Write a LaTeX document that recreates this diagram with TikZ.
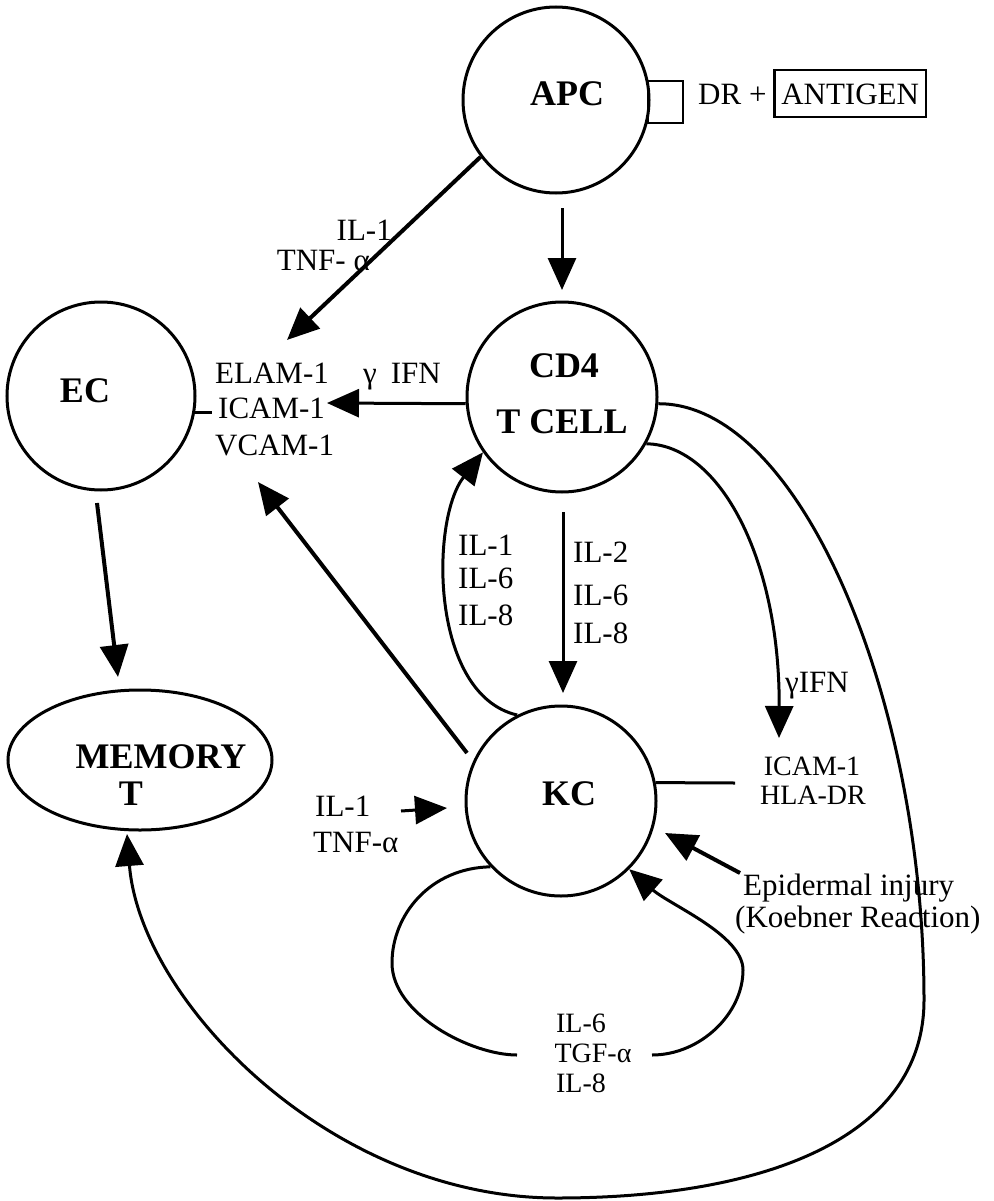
\documentclass[tikz,border=0pt]{standalone}
\usepackage{fontspec}
\setmainfont{Liberation Serif}
\usetikzlibrary{arrows.meta,shapes.geometric}
\begin{document}
\begin{tikzpicture}[x=1pt,y=1pt,
  cell/.style={draw, circle, line width=3pt, minimum size=#1, inner sep=0pt},
  lab/.style={font=\fontsize{31}{36}\selectfont, inner sep=0pt},
  slab/.style={font=\fontsize{28}{32}\selectfont, inner sep=0pt},
  ttl/.style={font=\fontsize{36}{40}\selectfont\bfseries, inner sep=0pt, anchor=base},
  arr/.style={-{Triangle[length=32pt,width=28pt]}, line width=3pt},
  thk/.style={line width=4pt},
  plain/.style={line width=3pt}
]
\useasboundingbox (0,0) rectangle (993,-1201);

% cells
\node[cell=186pt] (apc) at (556,-100) {};
\node[ttl] (apct) at (567,-106) {APC};
\node[draw, line width=2.5pt, minimum width=35pt, minimum height=42pt, inner sep=0pt] (sq) at (665.5,-102) {};
\node[lab, anchor=base west] (dr) at (698,-105) {DR +};
\node[lab, draw, line width=2.5pt, inner xsep=7pt, inner ysep=12pt, text height=23pt, text depth=0pt, anchor=base west] (ag) at (773,-105) {ANTIGEN};

\node[cell=188pt] (ec) at (101,-396) {};
\node[ttl] (ect) at (85,-402) {EC};

\node[cell=190pt] (cd4) at (562,-397) {};
\node[ttl] (cd4t) at (564,-377) {CD4};
\node[ttl] (tcell) at (562,-433) {T CELL};

\node[cell=190pt] (kc) at (561,-801) {};
\node[ttl] (kct) at (569,-805) {KC};

\node[draw, ellipse, line width=3pt, minimum width=264pt, minimum height=140pt, inner sep=0pt] (mem) at (140,-760) {};
\node[ttl] (memt1) at (161,-768) {MEMORY};
\node[ttl] (memt2) at (131,-805) {T};

% free ends
\coordinate (t1) at (287,-340);
\coordinate (s2) at (562,-208); \coordinate (t2) at (562,-290);
\coordinate (t3) at (327,-403);
\coordinate (s5) at (563,-512); \coordinate (t5) at (563,-693);
\coordinate (t6) at (779,-738);
\coordinate (e7) at (735,-783);
\coordinate (s8) at (97,-503); \coordinate (t8) at (118,-677);
\coordinate (s9) at (467,-753); \coordinate (t9) at (258,-482);
\coordinate (s10) at (401,-811); \coordinate (t10) at (447,-808);
\coordinate (s11) at (740,-873); \coordinate (t11) at (665,-833);
\coordinate (l1) at (517,-1055); \coordinate (l2) at (652,-1055);
\coordinate (t12) at (127,-834);

% connectors
\draw[arr, thk] (apc.217) -- (t1);
\draw[arr] (s2) -- (t2);
\draw[arr] (cd4.184) -- (t3);
\draw[arr] (kc.117) .. controls (430,-695) and (430,-520) .. (cd4.215);
\draw[arr] (s5) -- (t5);
\draw[arr] (cd4.-29) .. controls (720,-445) and (780,-560) .. (t6);
\draw[plain] (kc.11) -- (e7);
\draw[arr] (cd4.-4) .. controls (800,-403) and (924,-700) .. (924,-1000)
   .. controls (924,-1140) and (760,-1198) .. (557,-1198)
   .. controls (330,-1198) and (140,-1000) .. (t12);
\draw[arr, thk] (s8) -- (t8);
\draw[arr, thk] (s9) -- (t9);
\draw[plain] (ec.-10) -- ++(17,0);
\draw[arr] (s10) -- (t10);
\draw[arr, thk] (s11) -- (t11);
\draw[plain] (kc.223) .. controls (430,-868) and (392,-915) .. (392,-963)
   .. controls (392,-1014) and (471,-1055) .. (l1);
\draw[arr] (l2) .. controls (700,-1055) and (743,-1014) .. (743,-970)
   .. controls (743,-935) and (670,-905) .. (kc.-45);

% labels
\node[lab, anchor=base east] (il1a) at (392,-240) {IL-1};
\node[lab, anchor=base east] (tnfa) at (370,-270) {TNF- α};
\node[lab, anchor=base west] (elam) at (215,-383) {ELAM-1};
\node[lab, anchor=base west] (icam) at (218,-418) {ICAM-1};
\node[lab, anchor=base west] (vcam) at (215,-455) {VCAM-1};
\node[lab, anchor=base west] (gifn1) at (363,-383) {γ\hspace{14pt}IFN};

\node[lab, anchor=base west] (li1) at (458,-555) {IL-1};
\node[lab, anchor=base west] (li6) at (458,-588) {IL-6};
\node[lab, anchor=base west] (li8) at (458,-625) {IL-8};

\node[lab, anchor=base west] (ri2) at (573,-562) {IL-2};
\node[lab, anchor=base west] (ri6) at (573,-605) {IL-6};
\node[lab, anchor=base west] (ri8) at (573,-643) {IL-8};

\node[lab, anchor=base west] (gifn2) at (785,-692) {γIFN};
\node[slab, anchor=base] (icam2) at (812,-775) {ICAM-1};
\node[slab, anchor=base] (hla) at (813,-804) {HLA-DR};

\node[lab, anchor=base west] (kil1) at (315,-816) {IL-1};
\node[lab, anchor=base west] (ktnf) at (313,-852) {TNF-α};

\node[lab, anchor=base west] (epi) at (743,-895) {Epidermal injury};
\node[lab, anchor=base west] (koe) at (735,-927) {(Koebner Reaction)};

\node[slab, anchor=base] (bil6) at (581,-1032) {IL-6};
\node[slab, anchor=base] (btgf) at (593,-1062) {TGF-α};
\node[slab, anchor=base] (bil8) at (581,-1092) {IL-8};
\end{tikzpicture}
\end{document}
